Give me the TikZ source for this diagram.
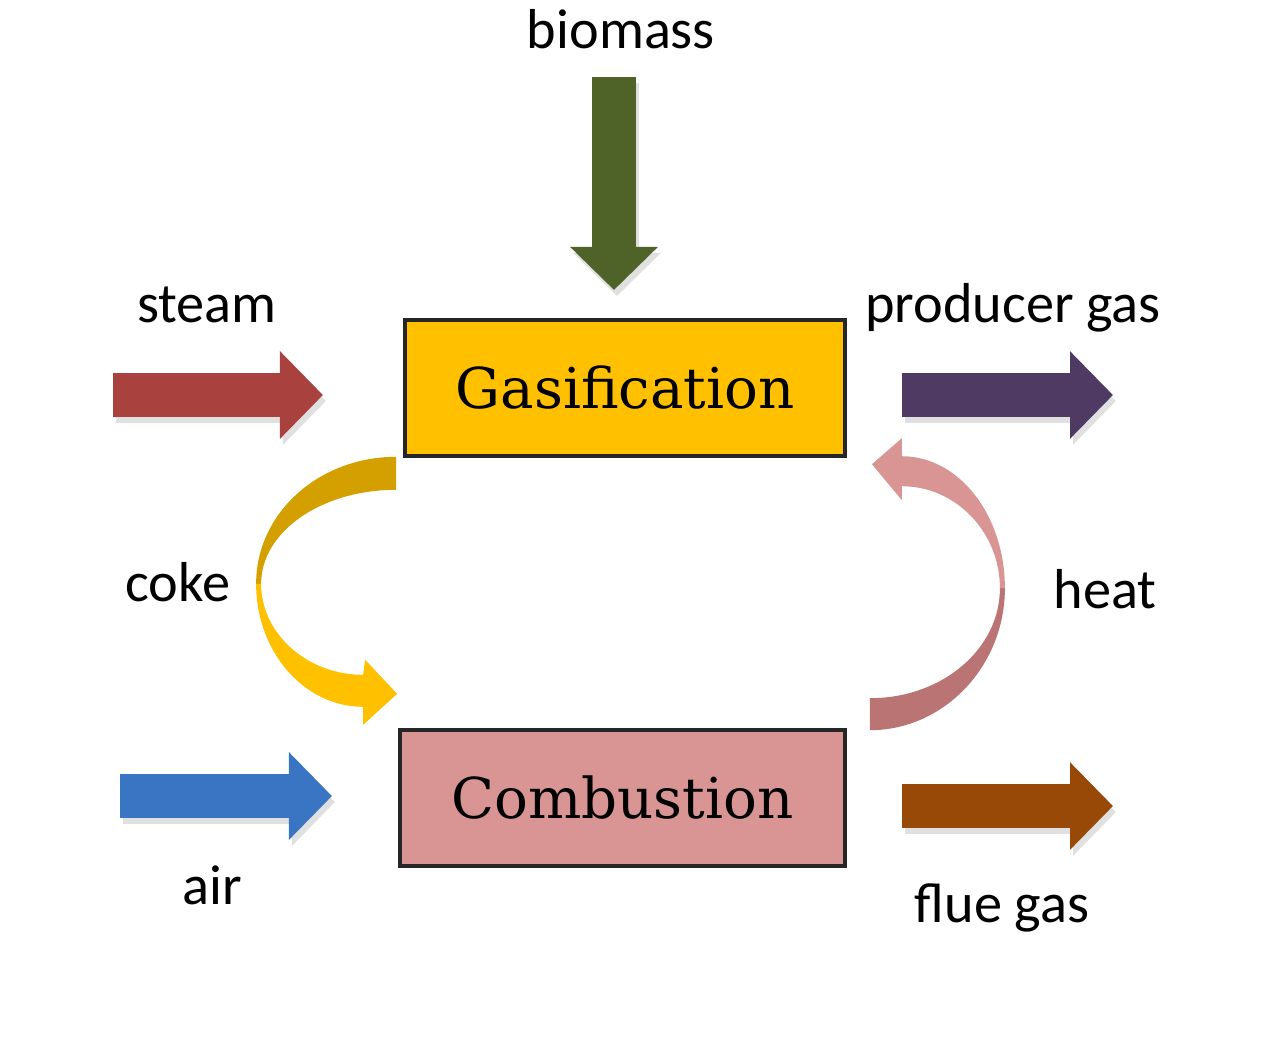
\documentclass[tikz,border=0pt]{standalone}
\usepackage{fontspec}
\setmainfont{Carlito}
\newfontfamily\boxfont{DejaVu Serif}
\usetikzlibrary{arrows.meta}

\definecolor{gasyellow}{HTML}{FFC000}
\definecolor{combpink}{HTML}{D99594}
\definecolor{steamred}{HTML}{A9423F}
\definecolor{prodpurple}{HTML}{4F3A64}
\definecolor{biogreen}{HTML}{4F6228}
\definecolor{airblue}{HTML}{3A75C4}
\definecolor{fluebrown}{HTML}{984807}
\definecolor{cokedark}{HTML}{D4A000}
\definecolor{heatdark}{HTML}{B97473}

\begin{document}
\begin{tikzpicture}[
  x=0.01cm,y=-0.01cm,
  proc/.style={draw=black!85, line width=1pt, minimum height=1.36cm, font=\boxfont\fontsize{16}{19}\selectfont},
  lbl/.style={anchor=base, inner sep=0pt, font=\fontsize{16}{19}\selectfont},
  blockarr/.style={line width=0.44cm, -{Triangle[length=0.43cm, width=0.85cm]}}
]
\useasboundingbox (0,0) rectangle (1280,1036);

% process boxes
\node[proc, fill=gasyellow, minimum width=4.4cm] (gas) at (625,388) {Gasification};
\node[proc, fill=combpink, minimum width=4.45cm] (comb) at (622.5,798) {Combustion};

% labels
\node[lbl] (biomass) at (621,48) {biomass};
\node[lbl] (steam) at (207,322) {steam};
\node[lbl] (prodgas) at (1013,322) {producer gas};
\node[lbl] (coke) at (178,601) {coke};
\node[lbl] (heat) at (1105,608) {heat};
\node[lbl] (air) at (212,904) {air};
\node[lbl] (fluegas) at (1002,922) {flue gas};

% straight feed / product arrows
\coordinate (biotail) at (614,77);   \coordinate (biotip) at (614,290);
\coordinate (steamtail) at (113,395); \coordinate (steamtip) at (323,395);
\coordinate (prodtail) at (902,395);  \coordinate (prodtip) at (1113,395);
\coordinate (airtail) at (120,796);   \coordinate (airtip) at (332,796);
\coordinate (fluetail) at (902,806);  \coordinate (fluetip) at (1113,806);
\foreach \t/\h/\c in {biotail/biotip/biogreen, steamtail/steamtip/steamred,
    prodtail/prodtip/prodpurple, airtail/airtip/airblue, fluetail/fluetip/fluebrown}{
  \draw[blockarr, draw=black!12] ([shift={(3,6)}]\t) -- ([shift={(3,6)}]\h);
  \draw[blockarr, draw=\c] (\t) -- (\h);
}

% coke: gasification -> combustion
\begin{scope}[shift={(gas.south west)}]
\fill[cokedark] (-7,-1) .. controls (-84,-1) and (-147,55) .. (-147,126)
  -- (-142,126) .. controls (-142,74) and (-82,32) .. (-7,32) -- cycle;
\fill[gasyellow] (-147,126) .. controls (-147,194) and (-99,249) .. (-40,249)
  -- (-40,267) -- (-6,236) -- (-38,202) -- (-40,217)
  .. controls (-96,217) and (-142,176) .. (-142,126) -- cycle;
\end{scope}

% heat: combustion -> gasification
\begin{scope}[shift={(comb.north east)}]
\fill[heatdark] (23,2) .. controls (97,2) and (158,-62) .. (158,-140)
  -- (153,-140) .. controls (153,-79) and (95,-30) .. (23,-30) -- cycle;
\fill[combpink] (158,-140) .. controls (158,-213) and (112,-272) .. (55,-272)
  -- (55,-290) -- (25,-264) -- (55,-228) -- (55,-242)
  .. controls (109,-242) and (153,-196) .. (153,-140) -- cycle;
\end{scope}
\end{tikzpicture}
\end{document}
